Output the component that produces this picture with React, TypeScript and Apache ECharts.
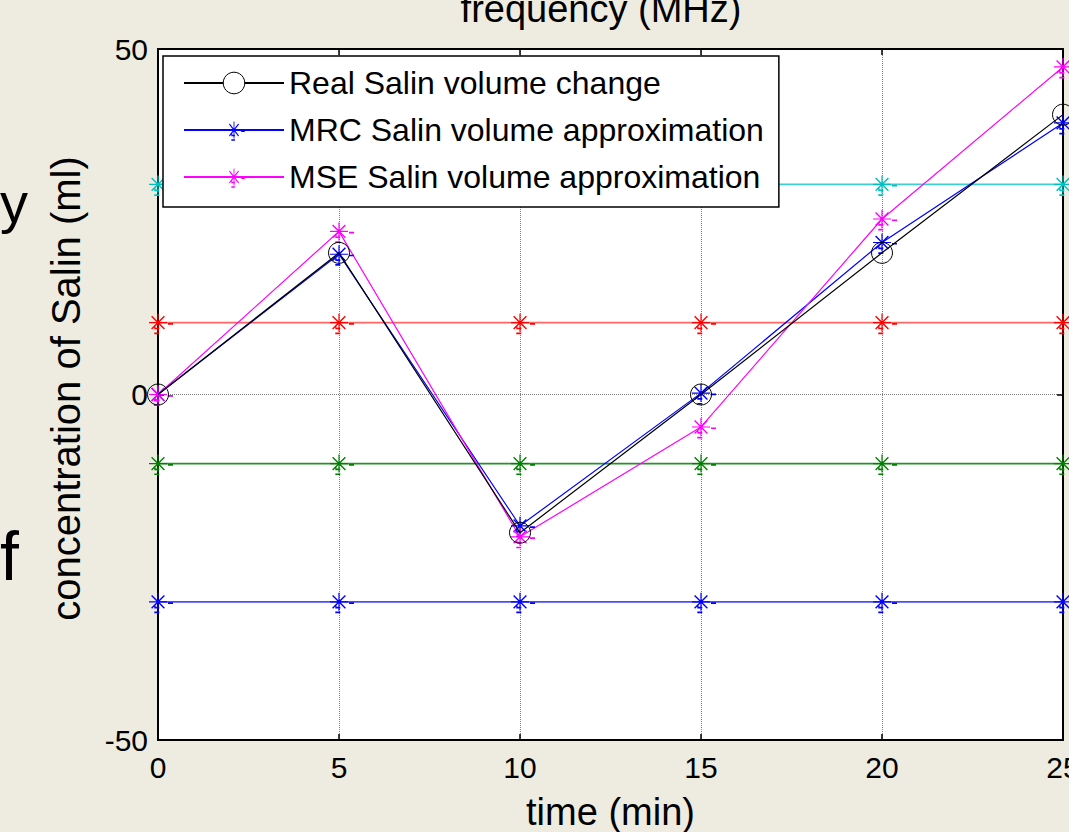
import React, { useEffect, useRef } from "react";
import * as echarts from "echarts";

// ---- data ----
const timeMin = [0, 5, 10, 15, 20, 25];
const realSalin = [0, 20.5, -20, 0, 20.5, 40.5];
const mrcSalin = [0, 20.3, -19, 0.2, 22, 39.3];
const mseSalin = [0, 23.6, -20.6, -4.7, 25.4, 47.4];
const cyanLevel = [30.4, 30.4, 30.4, 30.4, 30.4, 30.4];
const redLevel = [10.4, 10.4, 10.4, 10.4, 10.4, 10.4];
const greenLevel = [-10, -10, -10, -10, -10, -10];
const blueLevel = [-30, -30, -30, -30, -30, -30];
const xRange = { min: 0, max: 25, interval: 5 };
const yRange = { min: -50, max: 50, interval: 50 };
const legendNames = [
  "Real Salin volume change",
  "MRC Salin volume approximation",
  "MSE Salin volume approximation",
];

const pairs = (ys: number[]) => timeMin.map((t, i) => [t, ys[i]]);

// asterisk marker with the little dash artifacts, centred on (0,0)
const starPath =
  "path://" +
  "M-15,-11.5L-15,-11.5Z" +
  "M-9,-0.6L9,-0.6L9,0.6L-9,0.6Z" +
  "M-0.6,-9L0.6,-9L0.6,9L-0.6,9Z" +
  "M-5.9,-6.9L6.9,5.9L5.9,6.9L-6.9,-5.9Z" +
  "M6.9,-5.9L-5.9,6.9L-6.9,5.9L5.9,-6.9Z" +
  "M10,0.4L15,0.4L15,2.1L10,2.1Z" +
  "M-3.7,5L1.3,5L1.3,6.7L-3.7,6.7Z" +
  "M-3.7,9.8L1.3,9.8L1.3,11.5L-3.7,11.5Z" +
  "M-3.7,3.5L-2.5,3.5L-2.5,6.7L-3.7,6.7Z" +
  "M15,11.5L15,11.5Z";
const starSize = [30, 23];

const FONT = "Liberation Sans, Arial, sans-serif";

export default function App() {
  const ref = useRef<HTMLDivElement>(null);
  useEffect(() => {
    if (!ref.current) return;
    const chart = echarts.init(ref.current, undefined, { renderer: "svg" });

    const levelSeries = (data: number[], color: string, lineColor: string) => ({
      type: "line",
      data: pairs(data),
      symbol: starPath,
      symbolSize: starSize,
      itemStyle: { color },
      lineStyle: { color: lineColor, width: 1.8 },
      z: 2,
      silent: true,
    });

    const axisLine = { show: true, onZero: false, lineStyle: { color: "#000", width: 2 } };
    const axisTick = { show: true, inside: true, length: 6, lineStyle: { color: "#000", width: 1.5 } };

    chart.setOption({
      animation: false,
      backgroundColor: "#EEECE1",
      textStyle: { fontFamily: FONT },
      grid: {
        left: 158,
        right: 6,
        top: 49,
        bottom: 92,
        outerBoundsMode: "none",
        containLabel: false,
        show: true,
        backgroundColor: "#ffffff",
        borderWidth: 0,
      },
      legend: {
        data: [
          {
            name: legendNames[0],
            itemStyle: { color: "#ffffff", borderColor: "#000", borderWidth: 1 },
          },
          { name: legendNames[1] },
          { name: legendNames[2] },
        ],
        orient: "vertical",
        left: 163,
        top: 56,
        padding: [9, 15, 12, 20],
        itemGap: 11,
        itemWidth: 100,
        itemHeight: 27,
        backgroundColor: "#ffffff",
        borderColor: "#000",
        borderWidth: 1.5,
        textStyle: { fontFamily: FONT, fontSize: 32, color: "#000", lineHeight: 36 },
      },
      xAxis: [
        {
          type: "value",
          position: "bottom",
          ...xRange,
          name: "time (min)",
          nameLocation: "middle",
          nameGap: 53,
          nameTextStyle: { fontFamily: FONT, fontSize: 38, color: "#000" },
          axisLine,
          axisTick,
          axisLabel: { fontFamily: FONT, fontSize: 30, color: "#000", margin: 12 },
          splitLine: { show: true, lineStyle: { color: "#7f7f7f", width: 1, type: "dotted" } },
        },
        {
          type: "value",
          position: "top",
          ...xRange,
          axisLine,
          axisTick,
          axisLabel: { show: false },
          splitLine: { show: false },
        },
      ],
      yAxis: [
        {
          type: "value",
          position: "left",
          ...yRange,
          name: "concentration of Salin (ml)",
          nameLocation: "middle",
          nameRotate: 90,
          nameGap: 72,
          nameTextStyle: { fontFamily: FONT, fontSize: 40, color: "#000", padding: [0, 0, 0, 12] },
          axisLine,
          axisTick,
          axisLabel: { fontFamily: FONT, fontSize: 30, color: "#000", margin: 10 },
          splitLine: { show: true, lineStyle: { color: "#7f7f7f", width: 1, type: "dotted" } },
        },
        {
          type: "value",
          position: "right",
          ...yRange,
          axisLine,
          axisTick,
          axisLabel: { show: false },
          splitLine: { show: false },
        },
      ],
      series: [
        { name: "cyan level", ...levelSeries(cyanLevel, "#00BFBF", "rgba(0,191,191,0.75)") },
        { name: "red level", ...levelSeries(redLevel, "#FF0000", "rgba(255,0,0,0.6)") },
        { name: "green level", ...levelSeries(greenLevel, "#008000", "rgba(0,128,0,0.85)") },
        { name: "blue level", ...levelSeries(blueLevel, "#0000FF", "rgba(0,0,255,0.7)") },
        {
          name: legendNames[1],
          type: "line",
          data: pairs(mrcSalin),
          symbol: starPath,
          symbolSize: starSize,
          itemStyle: { color: "#0000FF" },
          lineStyle: { color: "#0000FF", width: 1.2 },
          z: 4,
        },
        {
          name: legendNames[2],
          type: "line",
          data: pairs(mseSalin),
          symbol: starPath,
          symbolSize: starSize,
          itemStyle: { color: "#FF00FF" },
          lineStyle: { color: "#FF00FF", width: 1.2 },
          z: 4,
        },
        {
          name: legendNames[0],
          type: "line",
          data: pairs(realSalin),
          symbol: "circle",
          symbolSize: 21,
          itemStyle: { color: "rgba(0,0,0,0)", borderColor: "#000", borderWidth: 1 },
          lineStyle: { color: "#000", width: 1.2 },
          z: 5,
        },
      ],
      graphic: [
        {
          type: "text",
          x: 601,
          y: 9,
          style: {
            text: "frequency (MHz)",
            fontFamily: FONT,
            fontSize: 38,
            fill: "#000",
            align: "center",
            verticalAlign: "middle",
          },
        },
        {
          type: "text",
          x: 0,
          y: 202,
          style: {
            text: "y",
            fontFamily: FONT,
            fontSize: 56,
            fill: "#000",
            align: "left",
            verticalAlign: "middle",
          },
        },
        {
          type: "text",
          x: 0,
          y: 556,
          style: {
            text: "f",
            fontFamily: FONT,
            fontSize: 68,
            fill: "#000",
            align: "left",
            verticalAlign: "middle",
          },
        },
      ],
    });
    return () => chart.dispose();
  }, []);
  return (
    <div
      ref={ref}
      style={{ position: "fixed", left: 0, top: 0, width: 1069, height: 832 }}
    />
  );
}
